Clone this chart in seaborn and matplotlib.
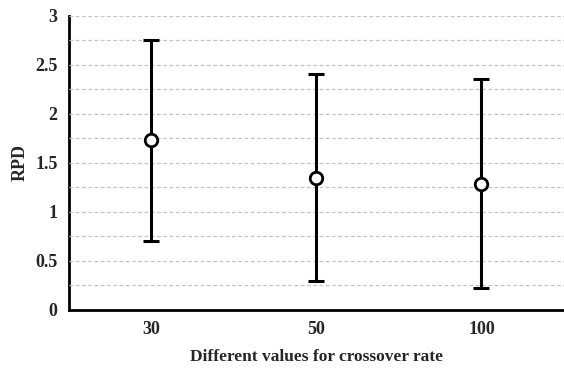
import pandas as pd
import numpy as np
import seaborn as sns
import matplotlib.pyplot as plt

# values
rates = ['30', '50', '100']
rpd_mean = [1.73, 1.35, 1.29]
rpd_upper = [2.76, 2.41, 2.36]
rpd_lower = [0.70, 0.29, 0.22]

df = pd.DataFrame({'rate': rates, 'rpd': rpd_mean})

sns.set_style('white')
plt.rcParams['font.family'] = ['Liberation Serif', 'DejaVu Serif']
plt.rcParams['font.weight'] = 'bold'

fig, ax = plt.subplots(figsize=(5.64, 3.72), dpi=100)
fig.subplots_adjust(left=0.122, right=1.0, bottom=0.167, top=0.957)

# dashed grid every 0.25
for yv in np.arange(0.25, 3.01, 0.25):
    ax.axhline(yv, color='#c4c4c4', ls=(0, (3, 2)), lw=0.9, zorder=0)

err = [np.array(rpd_mean) - np.array(rpd_lower), np.array(rpd_upper) - np.array(rpd_mean)]
ax.errorbar(range(len(rates)), rpd_mean, yerr=err, fmt='none', ecolor='black',
            elinewidth=2.2, capsize=5.5, capthick=2.2, zorder=2)
sns.pointplot(data=df, x='rate', y='rpd', linestyle='none', errorbar=None,
              marker='o', markersize=9, markerfacecolor='white',
              markeredgecolor='black', markeredgewidth=2, color='black', ax=ax)
for c in ax.collections + ax.lines:
    c.set_zorder(3)

ax.set_xlim(-0.5, 2.5)
ax.set_ylim(0, 3)
ax.set_yticks([0, 0.5, 1, 1.5, 2, 2.5, 3])
ax.set_yticklabels(['0', '0.5', '1', '1.5', '2', '2.5', '3'])
ax.tick_params(axis='both', length=0, labelsize=13, pad=8)
ax.set_xlabel('Different values for crossover rate', fontsize=12.5, fontweight='bold', labelpad=8)
ax.set_ylabel('RPD', fontsize=13, fontweight='bold', labelpad=5)

sns.despine(ax=ax)
for s in ['left', 'bottom']:
    ax.spines[s].set_color('black')
    ax.spines[s].set_linewidth(2)

fig.savefig('out.png', dpi=100)
